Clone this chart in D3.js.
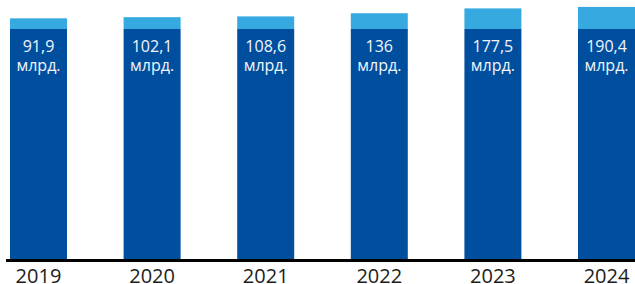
<!DOCTYPE html>
<html>
<head>
<meta charset="utf-8">
<script src="https://cdn.jsdelivr.net/npm/d3@7"></script>
<style>
  html, body { margin: 0; padding: 0; background: #fff; }
  svg { display: block; }
</style>
</head>
<body>
<svg id="chart" width="635" height="284"></svg>
<script>
const years = ["2019", "2020", "2021", "2022", "2023", "2024"];
const values = [91.9, 102.1, 108.6, 136, 177.5, 190.4];
const valueLabels = ["91,9", "102,1", "108,6", "136", "177,5", "190,4"];
const unitLabel = "млрд.";

const W = 635, H = 284;
const baseY = 259;      // bottom of bars (axis)
const breakY = 29;      // top of the dark (broken-axis) section
const svg = d3.select("#chart");

const x = d3.scaleBand().domain(years).range([10, 635]).paddingInner(0.4983).paddingOuter(0);
// value scale for the visible (light) part above the axis break
const y = d3.scaleLinear().domain([0, 200]).range([breakY, breakY - 23.2]);

const data = years.map((yr, i) => ({ yr, v: values[i], label: valueLabels[i] }));

// dark base section (broken axis part)
svg.selectAll("rect.base").data(data).join("rect")
  .attr("class", "base")
  .attr("x", d => x(d.yr))
  .attr("width", x.bandwidth())
  .attr("y", y(0))
  .attr("height", baseY - y(0))
  .attr("fill", "#004f9f");

// light top section proportional to value
svg.selectAll("rect.top").data(data).join("rect")
  .attr("class", "top")
  .attr("x", d => x(d.yr))
  .attr("width", x.bandwidth())
  .attr("y", d => y(d.v))
  .attr("height", d => y(0) - y(d.v))
  .attr("fill", "#36a9e1");

const font = "'Open Sans', 'Noto Sans', sans-serif";

const lbl = svg.selectAll("text.val").data(data).join("text")
  .attr("class", "val")
  .attr("text-anchor", "middle")
  .attr("font-family", font)
  .attr("font-size", 16)
  .attr("fill", "#f2f5fa");
lbl.append("tspan").attr("x", d => x(d.yr) + x.bandwidth() / 2).attr("y", 52).text(d => d.label);
lbl.append("tspan").attr("x", d => x(d.yr) + x.bandwidth() / 2).attr("y", 71).text(unitLabel);

// axis
const axis = svg.append("g").attr("transform", `translate(0,${baseY + 1.5})`)
  .call(d3.axisBottom(x).tickSize(0).tickPadding(0));
axis.select(".domain").attr("d", "M6,0H635").attr("stroke", "#000").attr("stroke-width", 3);
axis.selectAll(".tick text")
  .attr("y", 0).attr("dy", 0)
  .attr("transform", "translate(0,22)")
  .attr("font-family", font)
  .attr("font-size", 20)
  .attr("fill", "#1d1d1b");
</script>
</body>
</html>
